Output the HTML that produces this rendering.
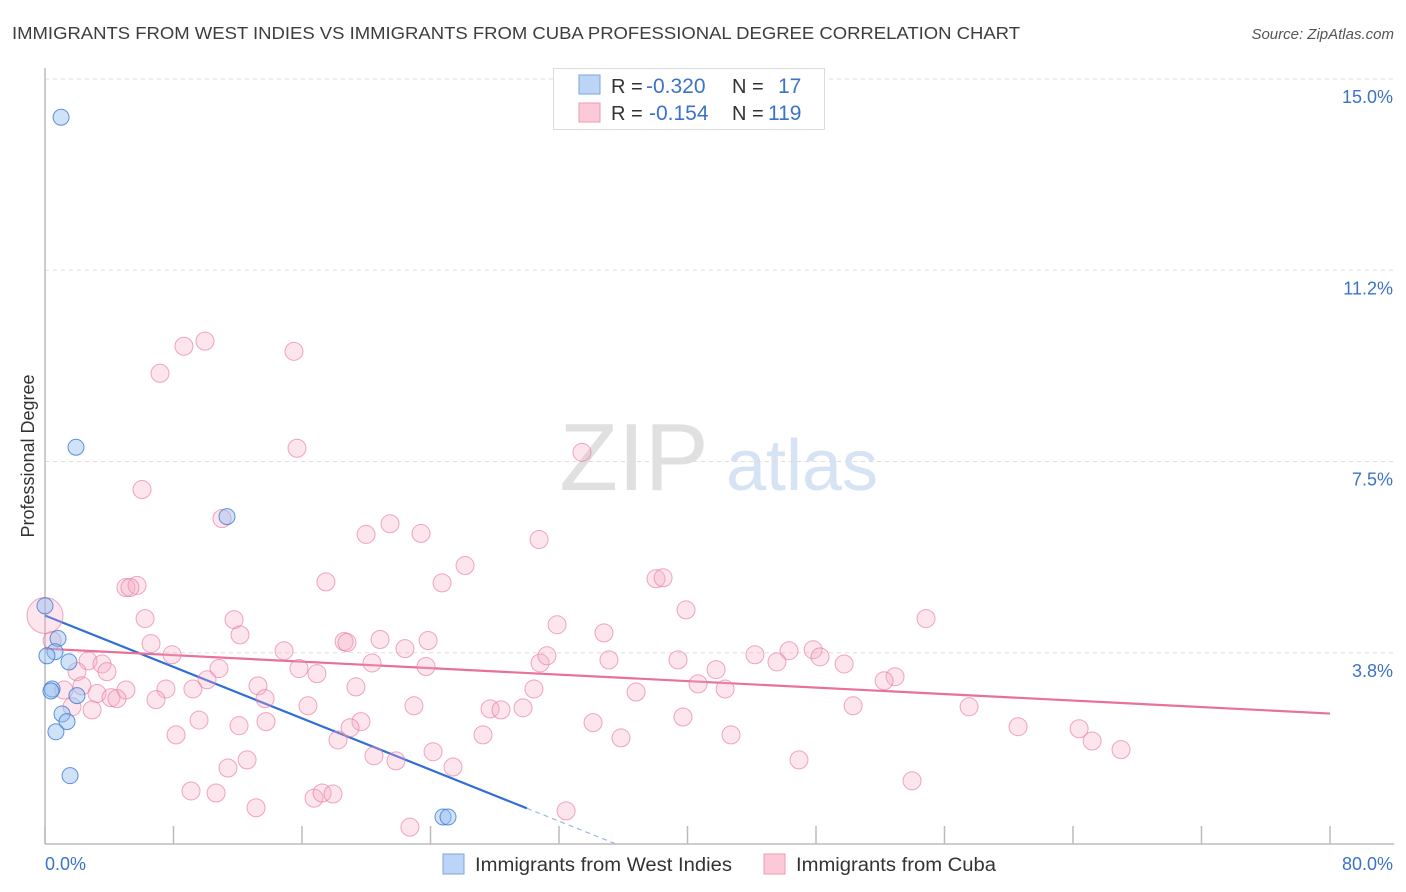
<!DOCTYPE html>
<html><head><meta charset="utf-8">
<style>
body{margin:0;background:#fff;font-family:"Liberation Sans",sans-serif;}
#wrap{position:relative;width:1406px;height:892px;overflow:hidden;}
svg text{font-family:"Liberation Sans",sans-serif;}
</style></head>
<body>
<div id="wrap">
<svg id="chart" width="1406" height="892">
<text x="12" y="39" font-size="17.5" fill="#3d3d3d" textLength="1008" lengthAdjust="spacingAndGlyphs">IMMIGRANTS FROM WEST INDIES VS IMMIGRANTS FROM CUBA PROFESSIONAL DEGREE CORRELATION CHART</text>
<text x="1394" y="39" font-size="15" fill="#555" font-style="italic" text-anchor="end">Source: ZipAtlas.com</text>
<g>
<text x="634" y="490" font-size="96" fill="#e0e0e0" text-anchor="middle" font-family="Liberation Serif">ZIP</text>
<text x="802" y="490" font-size="72" fill="#d6e3f4" text-anchor="middle">atlas</text>
</g>
<g id="grid"></g>
<g id="axes"></g>
<g id="trends"></g>
<g id="pts"></g>
<text x="34" y="456" font-size="18" fill="#333" text-anchor="middle" transform="rotate(-90 34 456)">Professional Degree</text>
<text x="45" y="870" font-size="18" fill="#3b73c8">0.0%</text>
<text x="1393" y="870" font-size="18" fill="#3b73c8" text-anchor="end">80.0%</text>
<g>
<rect x="553.5" y="68.5" width="271" height="61" fill="#fff" stroke="#dcdcdc"/>
<rect x="579" y="75" width="21" height="19" fill="#bcd4f5" stroke="#7aa5e0"/>
<rect x="579" y="103" width="21" height="19" fill="#fbc9d8" stroke="#ec9ab3"/>
<text y="93" font-size="20"><tspan x="611" fill="#333">R = </tspan><tspan x="646" fill="#3b73c8" font-size="21">-0.320</tspan><tspan x="732" fill="#333">N = </tspan><tspan x="778" fill="#3b73c8" font-size="21">17</tspan></text>
<text y="120" font-size="20"><tspan x="611" fill="#333">R = </tspan><tspan x="649" fill="#3b73c8" font-size="21">-0.154</tspan><tspan x="732" fill="#333">N = </tspan><tspan x="768" fill="#3b73c8" font-size="21">119</tspan></text>
</g>
<g>
<rect x="443" y="854" width="21" height="20" fill="#bcd4f5" stroke="#7aa5e0"/>
<text x="475" y="871" font-size="19" fill="#333" textLength="257" lengthAdjust="spacingAndGlyphs">Immigrants from West Indies</text>
<rect x="764" y="854" width="21" height="20" fill="#fbc9d8" stroke="#ec9ab3"/>
<text x="796" y="871" font-size="19" fill="#333" textLength="200" lengthAdjust="spacingAndGlyphs">Immigrants from Cuba</text>
</g>
</svg>
</div>
<script>
const yTicks=[3.75,7.5,11.25,15];
const yTickLabels=["3.8%","7.5%","11.2%","15.0%"];
const xTicks=[0,8,16,24,32,40,48,56,64,72,80];
const blueX=[1.0,1.93,11.33,0.0,0.81,0.62,0.12,1.49,0.44,1.99,1.06,1.37,0.68,1.56,24.78,25.09,0.37];
const blueY=[14.25,7.78,6.42,4.67,4.03,3.77,3.69,3.57,3.04,2.91,2.55,2.40,2.20,1.34,0.53,0.53,3.0];
const pinkX=[9.96,8.65,15.50,7.16,15.69,33.43,6.04,11.02,21.48,19.99,23.41,30.76,17.49,24.72,26.15,5.04,5.73,5.29,38.04,38.48,39.91,54.85,6.23,11.77,31.88,34.80,12.14,6.60,18.62,18.80,20.86,23.85,14.88,22.41,0.44,0.0,7.91,44.20,46.32,47.82,48.25,2.68,3.55,3.86,1.99,10.83,15.81,16.93,20.36,23.72,30.82,31.25,35.11,39.41,45.57,49.75,41.78,52.92,52.24,10.09,2.30,7.53,9.21,13.26,19.36,30.44,36.80,40.66,42.34,5.04,1.18,3.24,4.11,4.48,6.91,13.70,1.68,2.93,16.37,22.97,27.71,28.39,29.76,50.31,57.53,9.59,13.76,12.08,19.67,18.99,34.12,39.72,8.16,27.27,35.86,42.71,60.58,64.38,65.19,66.99,18.24,24.16,20.48,12.58,11.39,21.85,25.40,46.94,53.98,9.09,10.65,16.75,17.25,17.93,13.14,32.44,22.72];
const pinkY=[9.86,9.76,9.66,9.23,7.76,7.68,6.95,6.38,6.28,6.07,6.09,5.97,5.14,5.12,5.46,5.03,5.07,5.03,5.20,5.22,4.59,4.42,4.42,4.40,4.30,4.14,4.10,3.93,3.97,3.95,4.01,3.99,3.79,3.83,3.99,4.48,3.71,3.71,3.79,3.81,3.67,3.59,3.53,3.38,3.38,3.44,3.44,3.34,3.55,3.48,3.55,3.69,3.61,3.61,3.57,3.53,3.42,3.28,3.20,3.22,3.10,3.04,3.04,3.10,3.08,3.04,2.98,3.14,3.04,3.02,3.02,2.95,2.87,2.85,2.83,2.85,2.69,2.63,2.71,2.71,2.65,2.63,2.67,2.71,2.69,2.43,2.40,2.32,2.40,2.28,2.38,2.49,2.14,2.14,2.08,2.14,2.30,2.26,2.02,1.85,2.04,1.81,1.73,1.65,1.49,1.63,1.51,1.65,1.24,1.04,1.00,0.90,1.00,0.98,0.71,0.65,0.33];
const blueTrend=[4.48,-0.126];
const pinkTrend=[3.83,-0.0159];

const X0=45,X1=1330,Y0=844,Y1=79;
const sx=v=>X0+v/80*(X1-X0);
const sy=v=>Y0-v/15*(Y0-Y1);
const NS="http://www.w3.org/2000/svg";
function mk(tag,attrs,parent){const e=document.createElementNS(NS,tag);for(const k in attrs)e.setAttribute(k,attrs[k]);parent.appendChild(e);return e;}
const grid=document.getElementById('grid'),axes=document.getElementById('axes'),trends=document.getElementById('trends'),pts=document.getElementById('pts');
yTicks.forEach((t,i)=>{
  const l=mk('line',{x1:X0,x2:1394,y1:sy(t),y2:sy(t),stroke:'#dddddd','stroke-dasharray':'4,4'},grid);
  
  
  const tx=mk('text',{x:1393,y:sy(t)+24,'font-size':18,fill:'#3b73c8','text-anchor':'end'},grid);
  tx.textContent=yTickLabels[i];
  
  
});
const ya=mk('line',{x1:X0,x2:X0,y1:68,y2:Y0,stroke:'#bbb','stroke-width':1.5},axes);


const xa=mk('line',{x1:X0,x2:1394,y1:Y0,y2:Y0,stroke:'#bbb','stroke-width':1.5},axes);


xTicks.forEach(t=>{
  const l=mk('line',{x1:sx(t),x2:sx(t),y1:Y0-18,y2:Y0,stroke:'#bbb','stroke-width':1.5},axes);
  
  
});
const bEnd=30.0,bZero=-blueTrend[0]/blueTrend[1];
const bl=mk('line',{x1:sx(0),y1:sy(blueTrend[0]),x2:sx(bEnd),y2:sy(blueTrend[0]+blueTrend[1]*bEnd),stroke:'#2f6fd6','stroke-width':2.2},trends);


const bd=mk('line',{x1:sx(bEnd),y1:sy(blueTrend[0]+blueTrend[1]*bEnd),x2:sx(bZero),y2:sy(0),stroke:'#9bb8e6','stroke-width':1.2,'stroke-dasharray':'5,4'},trends);


const pl=mk('line',{x1:sx(0),y1:sy(pinkTrend[0]),x2:sx(80),y2:sy(pinkTrend[0]+pinkTrend[1]*80),stroke:'#e8709a','stroke-width':2.2},trends);


pinkX.forEach((x,i)=>{
  const c=mk('circle',{cx:sx(x),cy:sy(pinkY[i]),r:(x===0?18:9),fill:'rgba(246,170,195,0.3)',stroke:'rgba(232,120,158,0.65)','stroke-width':1},pts);
  
  
});
blueX.forEach((x,i)=>{
  const c=mk('circle',{cx:sx(x),cy:sy(blueY[i]),r:8,fill:'rgba(150,190,240,0.45)',stroke:'rgba(60,120,210,0.8)','stroke-width':1},pts);
  
  
});
</script>
</body></html>
